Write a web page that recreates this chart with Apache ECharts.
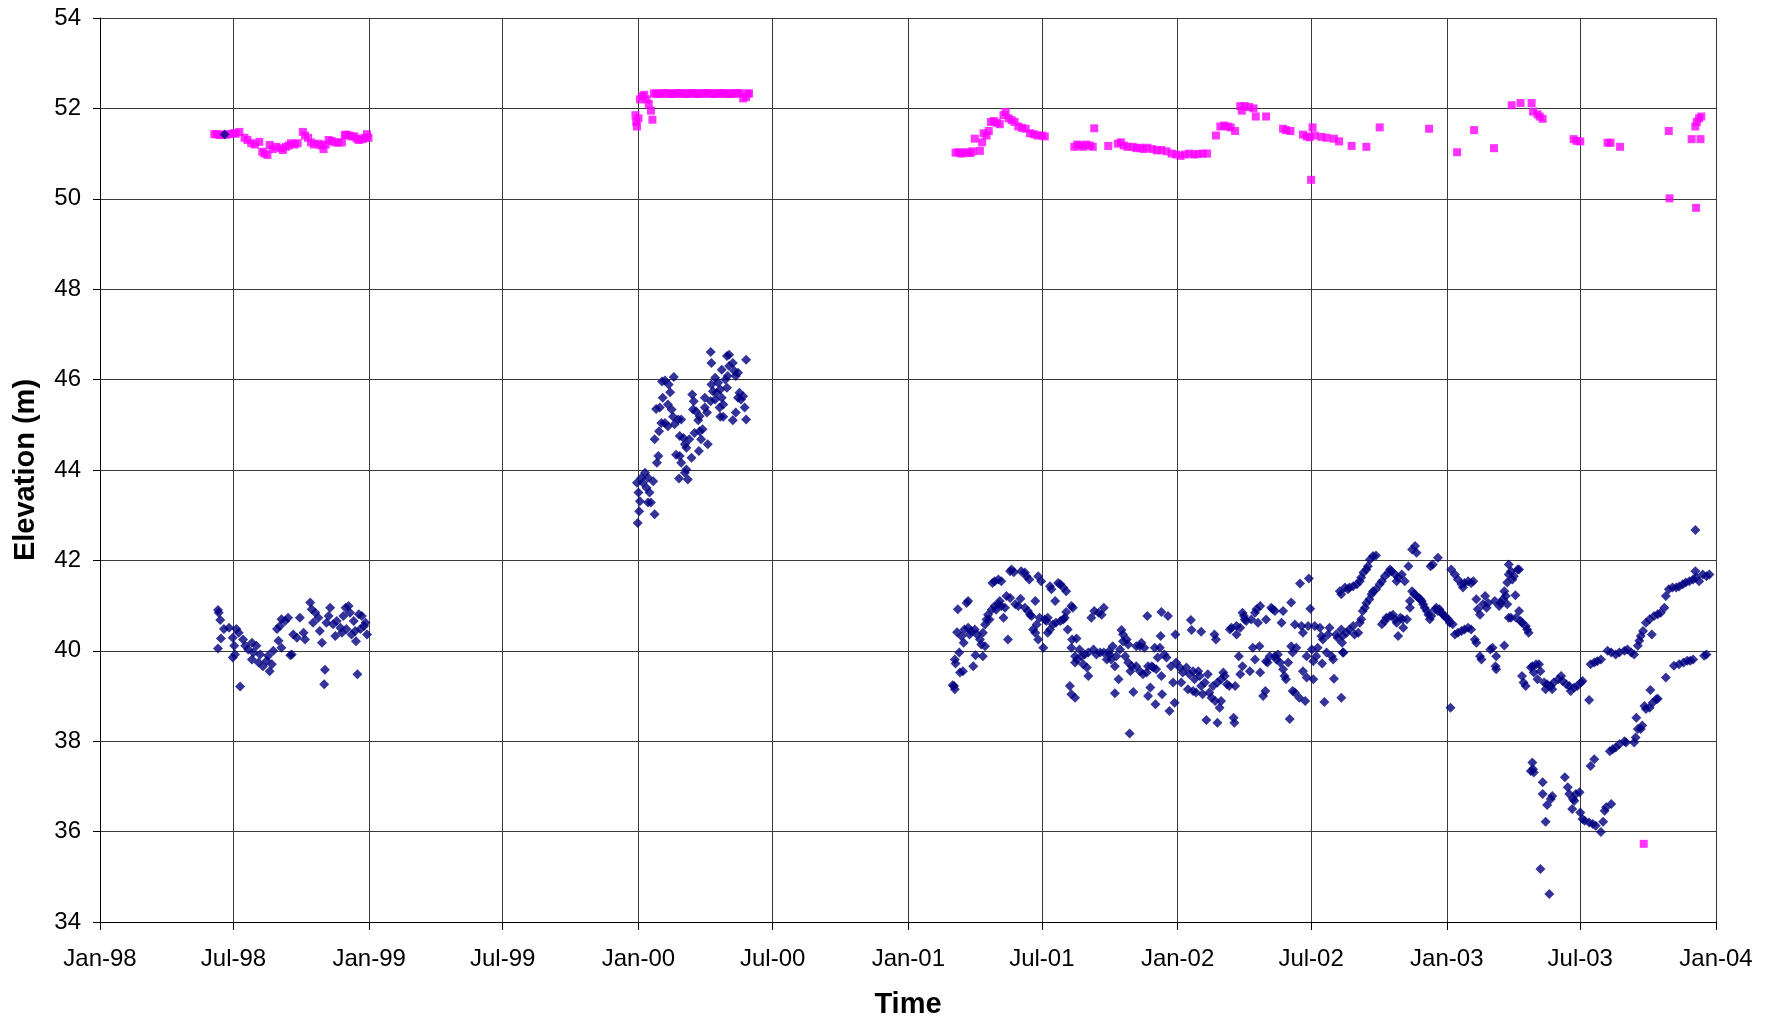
<!DOCTYPE html>
<html>
<head>
<meta charset="utf-8">
<title>Elevation vs Time</title>
<script src="https://cdn.jsdelivr.net/npm/echarts@6/dist/echarts.min.js"></script>
<style>
  html, body { margin: 0; padding: 0; background: #fff; }
  #chart { width: 1775px; height: 1020px; }
</style>
</head>
<body>
<div id="chart"></div>
<script>
// x axis gridlines / labels (every 6 months)
const tickDates = ['1998-01-01', '1998-07-01', '1999-01-01', '1999-07-01', '2000-01-01', '2000-07-01',
  '2001-01-01', '2001-07-01', '2002-01-01', '2002-07-01', '2003-01-01', '2003-07-01', '2004-01-01'];
const monthNames = ['Jan', 'Feb', 'Mar', 'Apr', 'May', 'Jun', 'Jul', 'Aug', 'Sep', 'Oct', 'Nov', 'Dec'];

// pink squares
const pink1998 = [
  ['1998-06-05', 51.43], ['1998-06-08', 51.43], ['1998-06-12', 51.41], ['1998-06-16', 51.42], ['1998-06-21', 51.42],
  ['1998-06-26', 51.43], ['1998-07-01', 51.45], ['1998-07-04', 51.44], ['1998-07-09', 51.48], ['1998-07-16', 51.35],
  ['1998-07-20', 51.3], ['1998-07-25', 51.23], ['1998-07-30', 51.2], ['1998-08-05', 51.26], ['1998-08-09', 51.04],
  ['1998-08-12', 51.0], ['1998-08-16', 50.97], ['1998-08-19', 51.19], ['1998-08-23', 51.1], ['1998-08-28', 51.15],
  ['1998-09-03', 51.12], ['1998-09-06', 51.08], ['1998-09-10', 51.15], ['1998-09-14', 51.18], ['1998-09-17', 51.23],
  ['1998-09-22', 51.2], ['1998-09-26', 51.23], ['1998-10-03', 51.48], ['1998-10-06', 51.4], ['1998-10-10', 51.35],
  ['1998-10-14', 51.25], ['1998-10-18', 51.2], ['1998-10-24', 51.22], ['1998-10-28', 51.18], ['1998-10-31', 51.1],
  ['1998-11-03', 51.2], ['1998-11-07', 51.3], ['1998-11-11', 51.28], ['1998-11-15', 51.25], ['1998-11-20', 51.24],
  ['1998-11-25', 51.25], ['1998-11-29', 51.41], ['1998-12-01', 51.42], ['1998-12-05', 51.4], ['1998-12-08', 51.38],
  ['1998-12-12', 51.38], ['1998-12-15', 51.33], ['1998-12-18', 51.3], ['1998-12-23', 51.32], ['1998-12-26', 51.35],
  ['1998-12-29', 51.43], ['1998-12-31', 51.35]
];
const pink2000 = [
  ['1999-12-28', 51.85], ['1999-12-29', 51.7], ['1999-12-30', 51.6], ['2000-01-01', 51.78], ['2000-01-03', 52.2],
  ['2000-01-06', 52.27], ['2000-01-09', 52.3], ['2000-01-12', 52.2], ['2000-01-15', 52.1], ['2000-01-18', 51.95],
  ['2000-01-20', 51.75], ['2000-01-22', 52.33], ['2000-01-25', 52.33], ['2000-01-28', 52.32], ['2000-01-31', 52.33],
  ['2000-02-03', 52.33], ['2000-02-06', 52.34], ['2000-02-09', 52.33], ['2000-02-12', 52.33], ['2000-02-15', 52.32],
  ['2000-02-18', 52.33], ['2000-02-21', 52.33], ['2000-02-24', 52.34], ['2000-02-27', 52.33], ['2000-03-01', 52.33],
  ['2000-03-04', 52.32], ['2000-03-07', 52.33], ['2000-03-10', 52.33], ['2000-03-13', 52.34], ['2000-03-16', 52.33],
  ['2000-03-19', 52.33], ['2000-03-22', 52.32], ['2000-03-25', 52.33], ['2000-03-28', 52.33], ['2000-03-31', 52.33],
  ['2000-04-03', 52.34], ['2000-04-06', 52.33], ['2000-04-09', 52.33], ['2000-04-12', 52.32], ['2000-04-15', 52.33],
  ['2000-04-18', 52.33], ['2000-04-21', 52.33], ['2000-04-24', 52.34], ['2000-04-27', 52.33], ['2000-04-30', 52.33],
  ['2000-05-03', 52.32], ['2000-05-06', 52.33], ['2000-05-09', 52.33], ['2000-05-12', 52.33], ['2000-05-15', 52.34],
  ['2000-05-18', 52.33], ['2000-05-22', 52.22], ['2000-05-26', 52.25], ['2000-05-28', 52.33], ['2000-05-30', 52.33]
];
const pink2001 = [
  ['2001-03-06', 51.02], ['2001-03-10', 51.03], ['2001-03-14', 51.0], ['2001-03-18', 51.02], ['2001-03-22', 51.03],
  ['2001-03-26', 51.01], ['2001-03-29', 51.05], ['2001-04-01', 51.33], ['2001-04-08', 51.06], ['2001-04-11', 51.25],
  ['2001-04-13', 51.45], ['2001-04-17', 51.4], ['2001-04-20', 51.5], ['2001-04-23', 51.7], ['2001-04-27', 51.72],
  ['2001-05-01', 51.68], ['2001-05-05', 51.65], ['2001-05-10', 51.85], ['2001-05-13', 51.92], ['2001-05-17', 51.78],
  ['2001-05-21', 51.74], ['2001-05-25', 51.7], ['2001-05-30', 51.6], ['2001-06-04', 51.57], ['2001-06-09', 51.55],
  ['2001-06-15', 51.45], ['2001-06-20', 51.43], ['2001-06-25', 51.4], ['2001-07-01', 51.4], ['2001-07-05', 51.38],
  ['2001-08-14', 51.15], ['2001-08-18', 51.2], ['2001-08-22', 51.18], ['2001-08-26', 51.15], ['2001-08-30', 51.2],
  ['2001-09-04', 51.18], ['2001-09-08', 51.15], ['2001-09-10', 51.56], ['2001-09-29', 51.17], ['2001-10-12', 51.22],
  ['2001-10-16', 51.25], ['2001-10-20', 51.18], ['2001-10-25', 51.15], ['2001-11-01', 51.15], ['2001-11-06', 51.12],
  ['2001-11-11', 51.13], ['2001-11-16', 51.1], ['2001-11-21', 51.13], ['2001-11-28', 51.1], ['2001-12-04', 51.07],
  ['2001-12-10', 51.08], ['2001-12-17', 51.05], ['2001-12-24', 51.0], ['2001-12-30', 50.98], ['2002-01-05', 50.95],
  ['2002-01-11', 50.98], ['2002-01-17', 51.0], ['2002-01-23', 50.98], ['2002-01-29', 50.99], ['2002-02-04', 51.0],
  ['2002-02-10', 51.0], ['2002-02-22', 51.4], ['2002-02-28', 51.6], ['2002-03-05', 51.62], ['2002-03-10', 51.6],
  ['2002-03-14', 51.58], ['2002-03-20', 51.5], ['2002-03-27', 52.05], ['2002-03-29', 51.95], ['2002-04-02', 52.05],
  ['2002-04-08', 52.03], ['2002-04-14', 52.0], ['2002-04-17', 51.82], ['2002-05-01', 51.82], ['2002-05-24', 51.55],
  ['2002-05-28', 51.52], ['2002-06-03', 51.5], ['2002-06-20', 51.42], ['2002-06-25', 51.38], ['2002-06-29', 51.36],
  ['2002-07-01', 50.42], ['2002-07-03', 51.58], ['2002-07-06', 51.4], ['2002-07-15', 51.37], ['2002-07-22', 51.35],
  ['2002-08-01', 51.33], ['2002-08-08', 51.27], ['2002-08-25', 51.17], ['2002-09-14', 51.15], ['2002-10-02', 51.58],
  ['2002-12-08', 51.55], ['2003-01-15', 51.03], ['2003-02-07', 51.52], ['2003-03-06', 51.12], ['2003-03-30', 52.07],
  ['2003-04-11', 52.12], ['2003-04-26', 52.12], ['2003-04-28', 51.93], ['2003-05-04', 51.87], ['2003-05-07', 51.82],
  ['2003-05-11', 51.77], ['2003-06-22', 51.32], ['2003-06-26', 51.28], ['2003-07-01', 51.27], ['2003-08-07', 51.24],
  ['2003-08-11', 51.24], ['2003-08-24', 51.15], ['2003-09-25', 35.73], ['2003-10-29', 51.5], ['2003-10-30', 50.01],
  ['2003-11-29', 51.32], ['2003-12-04', 51.6], ['2003-12-05', 49.8], ['2003-12-06', 51.7], ['2003-12-09', 51.78],
  ['2003-12-11', 51.32], ['2003-12-12', 51.82]
];

// navy diamonds
const navy1998 = [
  ['1998-06-19', 51.42],
  ['1998-06-10', 40.9], ['1998-06-11', 40.84], ['1998-06-13', 40.68], ['1998-06-10', 40.05], ['1998-06-14', 40.27],
  ['1998-06-18', 40.48], ['1998-06-25', 40.51], ['1998-06-30', 40.29], ['1998-07-02', 40.11], ['1998-06-30', 39.85],
  ['1998-07-05', 40.48], ['1998-07-08', 40.4], ['1998-07-10', 39.21], ['1998-07-03', 39.92], ['1998-07-14', 40.25],
  ['1998-07-17', 40.11], ['1998-07-21', 40.03], ['1998-07-26', 40.18], ['1998-07-28', 39.96], ['1998-07-26', 39.81],
  ['1998-08-01', 40.11], ['1998-08-06', 39.92], ['1998-08-04', 39.74], ['1998-08-10', 39.66], ['1998-08-15', 39.78],
  ['1998-08-19', 39.55], ['1998-08-17', 39.89], ['1998-08-24', 40.0], ['1998-08-22', 39.7], ['1998-08-29', 40.48],
  ['1998-09-02', 40.55], ['1998-08-31', 40.22], ['1998-09-04', 40.07], ['1998-09-04', 40.7], ['1998-09-09', 40.66],
  ['1998-09-13', 40.73], ['1998-09-16', 39.9], ['1998-09-18', 39.92], ['1998-09-20', 40.36], ['1998-09-25', 40.29],
  ['1998-09-29', 40.73], ['1998-10-04', 40.4], ['1998-10-06', 40.25], ['1998-10-13', 41.07], ['1998-10-15', 40.92],
  ['1998-10-20', 40.84], ['1998-10-17', 40.62], ['1998-10-24', 40.73], ['1998-10-26', 40.44], ['1998-10-29', 40.18],
  ['1998-11-02', 39.58], ['1998-11-01', 39.26], ['1998-11-04', 40.62], ['1998-11-09', 40.95], ['1998-11-07', 40.77],
  ['1998-11-13', 40.59], ['1998-11-16', 40.33], ['1998-11-18', 40.66], ['1998-11-23', 40.51], ['1998-11-25', 40.4],
  ['1998-11-27', 40.77], ['1998-11-30', 40.95], ['1998-12-04', 40.99], ['1998-12-01', 40.48], ['1998-12-06', 40.84],
  ['1998-12-08', 40.36], ['1998-12-11', 40.66], ['1998-12-13', 40.44], ['1998-12-16', 39.48], ['1998-12-14', 40.21],
  ['1998-12-18', 40.81], ['1998-12-20', 40.48], ['1998-12-22', 40.77], ['1998-12-25', 40.55], ['1998-12-27', 40.62],
  ['1998-12-29', 40.36]
];
const navy2000 = [
  ['1999-12-31', 42.83], ['2000-01-02', 43.09], ['2000-01-03', 43.31], ['2000-01-01', 43.5], ['1999-12-30', 43.72],
  ['2000-01-05', 43.83], ['2000-01-10', 43.94], ['2000-01-07', 43.72], ['2000-01-14', 43.83], ['2000-01-12', 43.61],
  ['2000-01-16', 43.5], ['2000-01-18', 43.28], ['2000-01-14', 43.28], ['2000-01-21', 43.75], ['2000-01-23', 43.02],
  ['2000-01-23', 44.68], ['2000-01-28', 44.31], ['2000-01-26', 44.16], ['2000-01-29', 44.86], ['2000-01-25', 45.35],
  ['2000-01-30', 45.38], ['2000-02-03', 45.6], ['2000-02-01', 45.04], ['2000-02-06', 45.04], ['2000-02-10', 44.97],
  ['2000-02-02', 45.96], ['2000-02-06', 45.98], ['2000-02-11', 45.89], ['2000-02-13', 45.72], ['2000-02-18', 46.06],
  ['2000-02-10', 45.45], ['2000-02-15', 45.34], ['2000-02-17', 45.18], ['2000-02-19', 45.01], ['2000-02-24', 45.12],
  ['2000-02-28', 45.12], ['2000-02-26', 44.75], ['2000-03-02', 44.71], ['2000-02-21', 44.34], ['2000-02-26', 44.31],
  ['2000-02-28', 44.16], ['2000-03-04', 44.57], ['2000-03-06', 44.49], ['2000-03-10', 44.68], ['2000-03-13', 44.27],
  ['2000-03-04', 43.94], ['2000-03-08', 43.79], ['2000-02-25', 43.81], ['2000-03-06', 44.01], ['2000-03-14', 45.67],
  ['2000-03-16', 45.52], ['2000-03-15', 45.34], ['2000-03-19', 45.3], ['2000-03-24', 45.19], ['2000-03-22', 45.1],
  ['2000-03-17', 44.82], ['2000-03-24', 44.86], ['2000-03-28', 44.9], ['2000-03-26', 44.68], ['2000-03-31', 45.6],
  ['2000-03-31', 45.38], ['2000-04-03', 45.27], ['2000-04-04', 44.57], ['2000-03-23', 44.42], ['2000-04-08', 46.61],
  ['2000-04-09', 46.37], ['2000-04-09', 45.89], ['2000-04-11', 45.74], ['2000-04-14', 46.04], ['2000-04-08', 45.52],
  ['2000-04-14', 45.56], ['2000-04-16', 45.71], ['2000-04-18', 45.93], ['2000-04-21', 45.78], ['2000-04-21', 45.18],
  ['2000-04-25', 45.18], ['2000-04-23', 45.6], ['2000-04-25', 45.45], ['2000-04-20', 45.38], ['2000-04-23', 46.22],
  ['2000-04-28', 46.0], ['2000-04-30', 45.82], ['2000-05-01', 46.08], ['2000-04-30', 46.52], ['2000-05-03', 46.55],
  ['2000-05-03', 46.3], ['2000-05-08', 46.37], ['2000-05-10', 46.19], ['2000-05-12', 46.08], ['2000-05-15', 46.15],
  ['2000-05-08', 45.1], ['2000-05-12', 45.27], ['2000-05-15', 45.6], ['2000-05-17', 45.71], ['2000-05-19', 45.56],
  ['2000-05-22', 45.63], ['2000-05-24', 45.38], ['2000-05-26', 45.12], ['2000-05-26', 46.44]
];
const navy2001 = [
  ['2001-03-04', 39.22], ['2001-03-05', 39.15], ['2001-03-02', 39.24], ['2001-03-05', 39.81], ['2001-03-06', 39.72],
  ['2001-03-09', 40.92], ['2001-03-08', 40.41], ['2001-03-11', 39.96], ['2001-03-12', 39.52], ['2001-03-16', 39.55],
  ['2001-03-14', 40.32], ['2001-03-17', 40.18], ['2001-03-18', 40.47], ['2001-03-21', 41.06], ['2001-03-23', 41.1],
  ['2001-03-23', 40.51], ['2001-03-25', 40.36], ['2001-03-27', 40.44], ['2001-03-30', 39.66], ['2001-04-02', 39.9],
  ['2001-04-01', 40.47], ['2001-04-04', 40.36], ['2001-04-08', 40.25], ['2001-04-10', 40.14], ['2001-04-12', 39.88],
  ['2001-04-15', 40.1], ['2001-04-12', 40.4], ['2001-04-15', 40.58], ['2001-04-17', 40.69], ['2001-04-19', 40.8],
  ['2001-04-24', 40.91], ['2001-04-21', 40.69], ['2001-04-25', 41.5], ['2001-04-28', 41.54], ['2001-05-03', 41.58],
  ['2001-05-07', 41.54], ['2001-04-28', 40.99], ['2001-04-30', 40.91], ['2001-05-03', 41.03], ['2001-05-05', 41.1],
  ['2001-05-07', 40.99], ['2001-05-10', 40.73], ['2001-05-12', 40.95], ['2001-05-14', 41.21], ['2001-05-16', 40.25],
  ['2001-05-19', 41.17], ['2001-05-19', 41.76], ['2001-05-21', 41.8], ['2001-05-24', 41.74], ['2001-05-26', 41.03],
  ['2001-05-30', 40.99], ['2001-06-02', 41.15], ['2001-06-03', 41.76], ['2001-06-08', 41.73], ['2001-06-10', 41.65],
  ['2001-06-14', 41.58], ['2001-06-08', 40.95], ['2001-06-12', 40.88], ['2001-06-15', 40.8], ['2001-06-17', 40.77],
  ['2001-06-22', 41.1], ['2001-06-19', 40.47], ['2001-06-24', 40.58], ['2001-06-22', 40.4], ['2001-06-26', 40.25],
  ['2001-06-26', 41.65], ['2001-06-30', 41.54], ['2001-06-28', 40.73], ['2001-07-03', 40.07], ['2001-07-05', 40.69],
  ['2001-07-07', 40.66], ['2001-07-09', 40.4], ['2001-07-12', 40.47], ['2001-07-09', 40.73], ['2001-07-12', 41.43],
  ['2001-07-14', 41.36], ['2001-07-19', 41.1], ['2001-07-16', 40.58], ['2001-07-20', 40.62], ['2001-07-23', 41.5],
  ['2001-07-26', 41.47], ['2001-07-30', 41.4], ['2001-08-03', 41.32], ['2001-07-26', 40.66], ['2001-07-30', 40.69],
  ['2001-08-01', 40.73], ['2001-08-05', 40.47], ['2001-08-03', 40.86], ['2001-08-10', 40.99], ['2001-08-12', 40.95],
  ['2001-08-10', 40.07], ['2001-08-11', 40.25], ['2001-08-17', 40.27], ['2001-08-08', 39.22], ['2001-08-10', 39.04],
  ['2001-08-15', 38.96], ['2001-08-15', 39.88], ['2001-08-18', 39.81], ['2001-08-15', 39.74], ['2001-08-21', 40.03],
  ['2001-08-24', 39.88], ['2001-08-26', 39.7], ['2001-08-31', 39.63], ['2001-09-02', 39.44], ['2001-08-28', 39.92],
  ['2001-09-02', 39.96], ['2001-09-09', 40.03], ['2001-09-06', 40.73], ['2001-09-10', 40.88], ['2001-09-16', 40.84],
  ['2001-09-23', 40.95], ['2001-09-20', 40.8], ['2001-09-13', 39.92], ['2001-09-18', 39.96], ['2001-09-23', 39.96],
  ['2001-09-27', 39.81], ['2001-09-30', 39.99], ['2001-10-01', 39.92], ['2001-10-03', 39.81], ['2001-10-05', 40.1],
  ['2001-10-08', 39.66], ['2001-10-08', 39.06], ['2001-10-13', 39.37], ['2001-10-10', 39.88], ['2001-10-17', 40.46],
  ['2001-10-19', 40.36], ['2001-10-19', 40.21], ['2001-10-15', 40.03], ['2001-10-22', 39.88], ['2001-10-24', 40.25],
  ['2001-10-26', 40.14], ['2001-10-26', 39.74], ['2001-10-31', 39.66], ['2001-10-29', 39.55], ['2001-10-28', 38.17],
  ['2001-11-02', 39.09], ['2001-11-06', 40.1], ['2001-11-11', 40.1], ['2001-11-13', 40.18], ['2001-11-06', 39.66],
  ['2001-11-11', 39.55], ['2001-11-15', 39.48], ['2001-11-21', 40.77], ['2001-11-22', 39.0], ['2001-11-22', 39.66],
  ['2001-11-17', 40.07], ['2001-11-20', 39.52], ['2001-11-25', 39.19], ['2001-11-27', 39.66], ['2001-12-01', 40.07],
  ['2001-11-29', 39.63], ['2001-12-02', 38.82], ['2001-12-03', 39.59], ['2001-12-05', 39.85], ['2001-12-08', 40.07],
  ['2001-12-09', 40.33], ['2001-12-10', 40.86], ['2001-12-11', 39.04], ['2001-12-10', 39.44], ['2001-12-14', 39.92],
  ['2001-12-17', 39.85], ['2001-12-19', 40.77], ['2001-12-21', 38.67], ['2001-12-23', 39.66], ['2001-12-26', 39.3],
  ['2001-12-28', 38.85], ['2001-12-29', 40.36], ['2001-12-30', 39.74], ['2002-01-04', 39.63], ['2002-01-06', 39.3],
  ['2002-01-08', 39.52], ['2002-01-13', 39.63], ['2002-01-15', 39.15], ['2002-01-17', 39.48], ['2002-01-19', 40.68],
  ['2002-01-20', 40.46], ['2002-01-22', 39.55], ['2002-01-24', 39.37], ['2002-01-22', 39.11], ['2002-01-26', 39.08],
  ['2002-01-29', 39.55], ['2002-01-31', 39.44], ['2002-02-02', 40.42], ['2002-02-02', 39.22], ['2002-02-04', 39.04],
  ['2002-02-07', 39.3], ['2002-02-09', 38.47], ['2002-02-11', 39.48], ['2002-02-13', 39.08], ['2002-02-16', 38.96],
  ['2002-02-18', 39.22], ['2002-02-20', 40.36], ['2002-02-21', 38.89], ['2002-02-22', 40.25], ['2002-02-24', 39.3],
  ['2002-02-24', 38.41], ['2002-02-27', 38.74], ['2002-03-01', 38.89], ['2002-03-01', 39.37], ['2002-03-04', 39.52],
  ['2002-03-06', 39.44], ['2002-03-09', 39.26], ['2002-03-12', 39.22], ['2002-03-13', 40.47], ['2002-03-15', 40.51],
  ['2002-03-18', 38.52], ['2002-03-19', 38.41], ['2002-03-20', 39.22], ['2002-03-22', 40.55], ['2002-03-22', 40.36],
  ['2002-03-25', 39.88], ['2002-03-27', 39.48], ['2002-03-30', 39.66], ['2002-03-27', 40.51], ['2002-03-30', 40.84],
  ['2002-04-01', 40.77], ['2002-04-02', 40.69], ['2002-04-04', 40.66], ['2002-04-09', 39.55], ['2002-04-11', 40.69],
  ['2002-04-13', 40.07], ['2002-04-16', 40.84], ['2002-04-16', 39.81], ['2002-04-18', 40.92], ['2002-04-20', 40.62],
  ['2002-04-22', 40.1], ['2002-04-23', 40.99], ['2002-04-23', 39.52], ['2002-04-27', 39.0], ['2002-04-30', 39.11],
  ['2002-05-01', 40.69], ['2002-05-01', 39.77], ['2002-05-03', 39.74], ['2002-05-06', 39.88], ['2002-05-08', 40.95],
  ['2002-05-10', 40.92], ['2002-05-13', 40.88], ['2002-05-13', 39.88], ['2002-05-15', 39.81], ['2002-05-17', 39.92],
  ['2002-05-20', 39.74], ['2002-05-22', 40.62], ['2002-05-24', 40.88], ['2002-05-24', 39.59], ['2002-05-26', 39.44],
  ['2002-05-28', 39.37], ['2002-05-31', 39.74], ['2002-06-02', 38.49], ['2002-06-04', 41.07], ['2002-06-04', 40.1],
  ['2002-06-06', 39.96], ['2002-06-06', 39.11], ['2002-06-09', 39.08], ['2002-06-09', 40.58], ['2002-06-11', 40.07],
  ['2002-06-15', 38.96], ['2002-06-16', 41.49], ['2002-06-18', 40.55], ['2002-06-20', 40.4], ['2002-06-20', 39.55],
  ['2002-06-23', 38.89], ['2002-06-25', 39.41], ['2002-06-25', 39.88], ['2002-06-27', 40.55], ['2002-06-28', 41.6],
  ['2002-06-30', 40.93], ['2002-07-02', 40.03], ['2002-07-04', 39.77], ['2002-07-04', 39.37], ['2002-07-06', 40.55],
  ['2002-07-08', 39.88], ['2002-07-10', 40.07], ['2002-07-13', 40.51], ['2002-07-15', 40.33], ['2002-07-16', 39.72],
  ['2002-07-17', 40.25], ['2002-07-19', 38.87], ['2002-07-22', 39.96], ['2002-07-24', 40.36], ['2002-07-26', 40.51],
  ['2002-07-29', 39.88], ['2002-07-31', 39.81], ['2002-08-01', 39.38], ['2002-08-04', 40.36], ['2002-08-06', 40.29],
  ['2002-08-09', 41.32], ['2002-08-11', 41.25], ['2002-08-11', 38.96], ['2002-08-13', 39.96], ['2002-08-16', 41.4],
  ['2002-08-18', 40.4], ['2002-08-20', 41.36],
  ['2002-08-22', 41.4], ['2002-08-27', 41.43], ['2002-09-01', 41.47], ['2002-09-05', 41.54], ['2002-09-07', 41.62],
  ['2002-09-10', 41.73], ['2002-09-14', 41.8], ['2002-09-16', 41.87], ['2002-09-19', 42.02], ['2002-09-23', 42.1],
  ['2002-09-27', 42.11], ['2002-08-11', 40.47], ['2002-08-13', 40.33], ['2002-08-12', 40.18], ['2002-08-14', 39.96],
  ['2002-08-22', 40.47], ['2002-08-27', 40.55], ['2002-08-29', 40.36], ['2002-09-03', 40.4], ['2002-09-05', 40.62],
  ['2002-09-07', 40.7], ['2002-09-09', 40.88], ['2002-09-12', 40.95], ['2002-09-14', 41.06], ['2002-09-18', 41.14],
  ['2002-09-21', 41.25], ['2002-09-23', 41.32], ['2002-09-27', 41.36], ['2002-10-02', 41.47], ['2002-10-05', 41.54],
  ['2002-10-09', 41.65], ['2002-10-14', 41.73], ['2002-10-16', 41.8], ['2002-10-18', 41.76], ['2002-10-23', 41.69],
  ['2002-10-27', 41.62], ['2002-11-01', 41.69], ['2002-11-05', 41.54], ['2002-10-25', 41.54], ['2002-10-05', 40.59],
  ['2002-10-09', 40.66], ['2002-10-11', 40.73], ['2002-10-16', 40.77], ['2002-10-20', 40.8], ['2002-10-23', 40.69],
  ['2002-10-25', 40.62], ['2002-10-27', 40.33], ['2002-10-30', 40.73], ['2002-11-02', 40.7], ['2002-11-03', 40.51],
  ['2002-11-08', 40.7], ['2002-11-10', 41.87], ['2002-11-12', 41.1], ['2002-11-12', 40.95], ['2002-11-15', 42.24],
  ['2002-11-19', 42.32], ['2002-11-21', 42.17], ['2002-11-15', 41.32], ['2002-11-18', 41.25], ['2002-11-21', 41.21],
  ['2002-11-24', 41.17], ['2002-11-26', 41.14], ['2002-11-28', 41.1], ['2002-11-30', 41.03], ['2002-12-02', 40.95],
  ['2002-12-05', 40.88], ['2002-12-07', 40.8], ['2002-12-09', 40.7], ['2002-12-10', 41.87], ['2002-12-13', 41.91],
  ['2002-12-20', 42.06], ['2002-12-11', 40.77], ['2002-12-16', 40.92], ['2002-12-18', 40.95], ['2002-12-20', 40.88],
  ['2002-12-22', 40.92], ['2002-12-25', 40.84], ['2002-12-27', 40.8], ['2002-12-29', 40.77], ['2002-12-31', 40.73],
  ['2003-01-03', 40.7], ['2003-01-05', 40.62], ['2003-01-09', 40.59], ['2003-01-06', 38.74], ['2003-01-07', 41.8],
  ['2003-01-12', 41.69], ['2003-01-16', 41.58], ['2003-01-21', 41.47], ['2003-01-25', 41.5], ['2003-01-30', 41.54],
  ['2003-02-03', 41.5], ['2003-02-06', 41.54], ['2003-01-23', 41.4], ['2003-01-12', 40.36], ['2003-01-16', 40.4],
  ['2003-01-21', 40.44], ['2003-01-25', 40.47], ['2003-01-30', 40.51], ['2003-02-03', 40.47], ['2003-02-08', 40.25],
  ['2003-02-10', 40.18], ['2003-02-10', 41.14], ['2003-02-12', 40.92], ['2003-02-15', 40.8], ['2003-02-15', 39.88],
  ['2003-02-17', 39.81], ['2003-02-19', 41.03], ['2003-02-22', 41.21], ['2003-02-24', 40.95], ['2003-02-26', 41.06],
  ['2003-03-01', 40.03], ['2003-03-04', 40.07], ['2003-03-07', 41.1], ['2003-03-09', 39.88], ['2003-03-08', 39.66],
  ['2003-03-09', 39.59], ['2003-03-13', 40.99], ['2003-03-15', 41.06], ['2003-03-18', 41.14], ['2003-03-20', 40.12],
  ['2003-03-20', 41.32], ['2003-03-24', 41.51], ['2003-03-26', 41.69], ['2003-03-26', 41.91], ['2003-03-29', 41.76],
  ['2003-03-31', 41.58], ['2003-04-02', 41.65], ['2003-04-07', 41.8], ['2003-03-22', 41.21], ['2003-03-24', 41.03],
  ['2003-03-26', 40.73], ['2003-03-29', 40.73], ['2003-04-04', 41.23], ['2003-04-05', 40.73], ['2003-04-09', 40.88],
  ['2003-04-11', 40.66], ['2003-04-13', 40.62], ['2003-04-18', 40.55], ['2003-04-20', 40.47], ['2003-04-22', 40.4],
  ['2003-04-09', 41.8], ['2003-04-13', 39.44], ['2003-04-15', 39.3], ['2003-04-18', 39.22], ['2003-04-25', 39.63],
  ['2003-04-27', 39.66], ['2003-05-02', 39.7], ['2003-05-04', 39.37], ['2003-04-29', 39.52], ['2003-05-06', 39.7],
  ['2003-05-08', 39.55], ['2003-05-13', 39.3], ['2003-05-15', 39.15], ['2003-05-17', 39.26], ['2003-05-22', 39.22],
  ['2003-05-24', 39.15], ['2003-05-26', 39.3], ['2003-06-01', 39.37], ['2003-06-05', 39.44], ['2003-06-07', 39.33],
  ['2003-06-12', 39.26], ['2003-06-16', 39.22], ['2003-06-18', 39.11], ['2003-06-23', 39.19], ['2003-06-27', 39.22],
  ['2003-07-02', 39.3], ['2003-07-04', 39.33], ['2003-07-13', 38.91], ['2003-07-15', 39.7], ['2003-07-20', 39.74],
  ['2003-07-24', 39.77], ['2003-07-29', 39.81], ['2003-08-07', 40.0], ['2003-08-12', 39.96], ['2003-08-18', 39.92],
  ['2003-08-23', 39.96], ['2003-08-30', 40.0], ['2003-09-03', 40.03], ['2003-09-08', 39.96], ['2003-09-12', 39.92],
  ['2003-09-17', 40.11], ['2003-09-19', 40.22], ['2003-09-21', 40.33], ['2003-09-24', 40.44], ['2003-09-28', 40.62],
  ['2003-10-03', 40.7], ['2003-10-06', 40.36], ['2003-10-09', 40.77], ['2003-10-14', 40.81], ['2003-10-18', 40.84],
  ['2003-10-23', 40.95], ['2003-10-25', 41.21], ['2003-10-29', 41.36], ['2003-11-03', 41.4], ['2003-11-08', 41.4],
  ['2003-11-12', 41.42], ['2003-11-17', 41.47], ['2003-11-21', 41.51], ['2003-11-26', 41.54], ['2003-12-01', 41.58],
  ['2003-12-05', 41.62], ['2003-12-04', 41.76], ['2003-12-04', 42.67], ['2003-12-09', 41.54], ['2003-12-14', 41.69],
  ['2003-12-19', 41.65], ['2003-12-23', 41.69],
  ['2003-04-25', 37.34], ['2003-04-27', 37.53], ['2003-04-28', 37.38], ['2003-04-29', 37.31], ['2003-05-11', 37.09],
  ['2003-05-11', 36.83], ['2003-05-15', 36.22], ['2003-05-17', 36.59], ['2003-05-22', 36.72], ['2003-05-24', 36.79],
  ['2003-05-20', 34.62], ['2003-05-08', 35.17],
  ['2003-06-10', 37.2], ['2003-06-14', 36.98], ['2003-06-16', 36.83], ['2003-06-21', 36.72], ['2003-06-20', 36.5],
  ['2003-06-25', 36.83], ['2003-06-30', 36.87], ['2003-06-23', 36.68], ['2003-07-01', 36.42], ['2003-07-04', 36.28],
  ['2003-07-07', 36.24], ['2003-07-13', 36.2], ['2003-07-18', 36.17], ['2003-07-22', 36.13], ['2003-07-29', 35.99],
  ['2003-08-01', 36.22], ['2003-08-03', 36.46], ['2003-08-05', 36.54], ['2003-08-12', 36.61], ['2003-07-15', 37.45],
  ['2003-07-20', 37.6], ['2003-08-10', 37.78], ['2003-08-14', 37.82], ['2003-08-18', 37.86], ['2003-08-23', 37.93],
  ['2003-08-30', 38.0], ['2003-09-01', 37.97], ['2003-09-12', 37.97], ['2003-09-14', 38.08], ['2003-09-17', 38.27],
  ['2003-09-21', 38.27], ['2003-09-23', 38.35], ['2003-09-15', 38.52], ['2003-09-26', 38.78], ['2003-09-28', 38.71],
  ['2003-10-03', 38.74], ['2003-10-07', 38.85], ['2003-10-12', 38.93], ['2003-10-14', 38.94], ['2003-10-04', 39.13],
  ['2003-10-25', 39.41], ['2003-11-05', 39.67], ['2003-11-12', 39.7], ['2003-11-18', 39.74], ['2003-11-23', 39.78],
  ['2003-11-27', 39.78], ['2003-12-01', 39.81], ['2003-12-16', 39.89], ['2003-12-19', 39.92]
];

function toTime(d) {
  return +echarts.time.parse(d);
}
function toPoints(list) {
  return list.map(p => [toTime(p[0]), p[1]]);
}

const pinkData = toPoints(pink1998.concat(pink2000, pink2001));
const navyData = toPoints(navy1998.concat(navy2000, navy2001));
const tickValues = tickDates.map(toTime);

const myChart = echarts.init(document.getElementById('chart'));

const option = {
  animation: false,
  backgroundColor: '#ffffff',
  textStyle: { fontFamily: 'Liberation Sans, Arial, sans-serif' },
  grid: { left: 100, right: 59, top: 18, bottom: 98, containLabel: false, outerBoundsMode: 'none' },
  xAxis: {
    type: 'value',
    min: tickValues[0],
    max: tickValues[tickValues.length - 1],
    name: 'Time',
    nameLocation: 'middle',
    nameGap: 68,
    nameTextStyle: { fontSize: 29, fontWeight: 'bold', color: '#000' },
    axisLine: { show: true, lineStyle: { color: '#000', width: 1 } },
    axisTick: { show: true, length: 8, inside: false, customValues: tickValues, lineStyle: { color: '#000' } },
    axisLabel: {
      customValues: tickValues,
      fontSize: 24,
      color: '#000',
      margin: 25,
      formatter: function (v) {
        const d = new Date(v);
        return monthNames[d.getMonth()] + '-' + String(d.getFullYear()).slice(2);
      }
    },
    splitLine: { show: true, lineStyle: { color: '#3a3a3a', width: 1 } }
  },
  yAxis: {
    type: 'value',
    min: 34,
    max: 54,
    interval: 2,
    name: 'Elevation (m)',
    nameLocation: 'middle',
    nameGap: 60,
    nameTextStyle: { fontSize: 29, fontWeight: 'bold', color: '#000' },
    axisLine: { show: true, lineStyle: { color: '#000', width: 1 } },
    axisTick: { show: true, length: 7, lineStyle: { color: '#000' } },
    axisLabel: { fontSize: 24, color: '#000', margin: 19 },
    splitLine: { show: true, lineStyle: { color: '#3a3a3a', width: 1 } }
  },
  series: [
    {
      name: 'Pink',
      type: 'scatter',
      symbol: 'rect',
      symbolSize: 8,
      itemStyle: { color: '#ff00ff' },
      data: pinkData
    },
    {
      name: 'Navy',
      type: 'scatter',
      symbol: 'diamond',
      symbolSize: 10,
      itemStyle: { color: '#000080' },
      data: navyData
    }
  ]
};

myChart.setOption(option);
</script>
</body>
</html>
